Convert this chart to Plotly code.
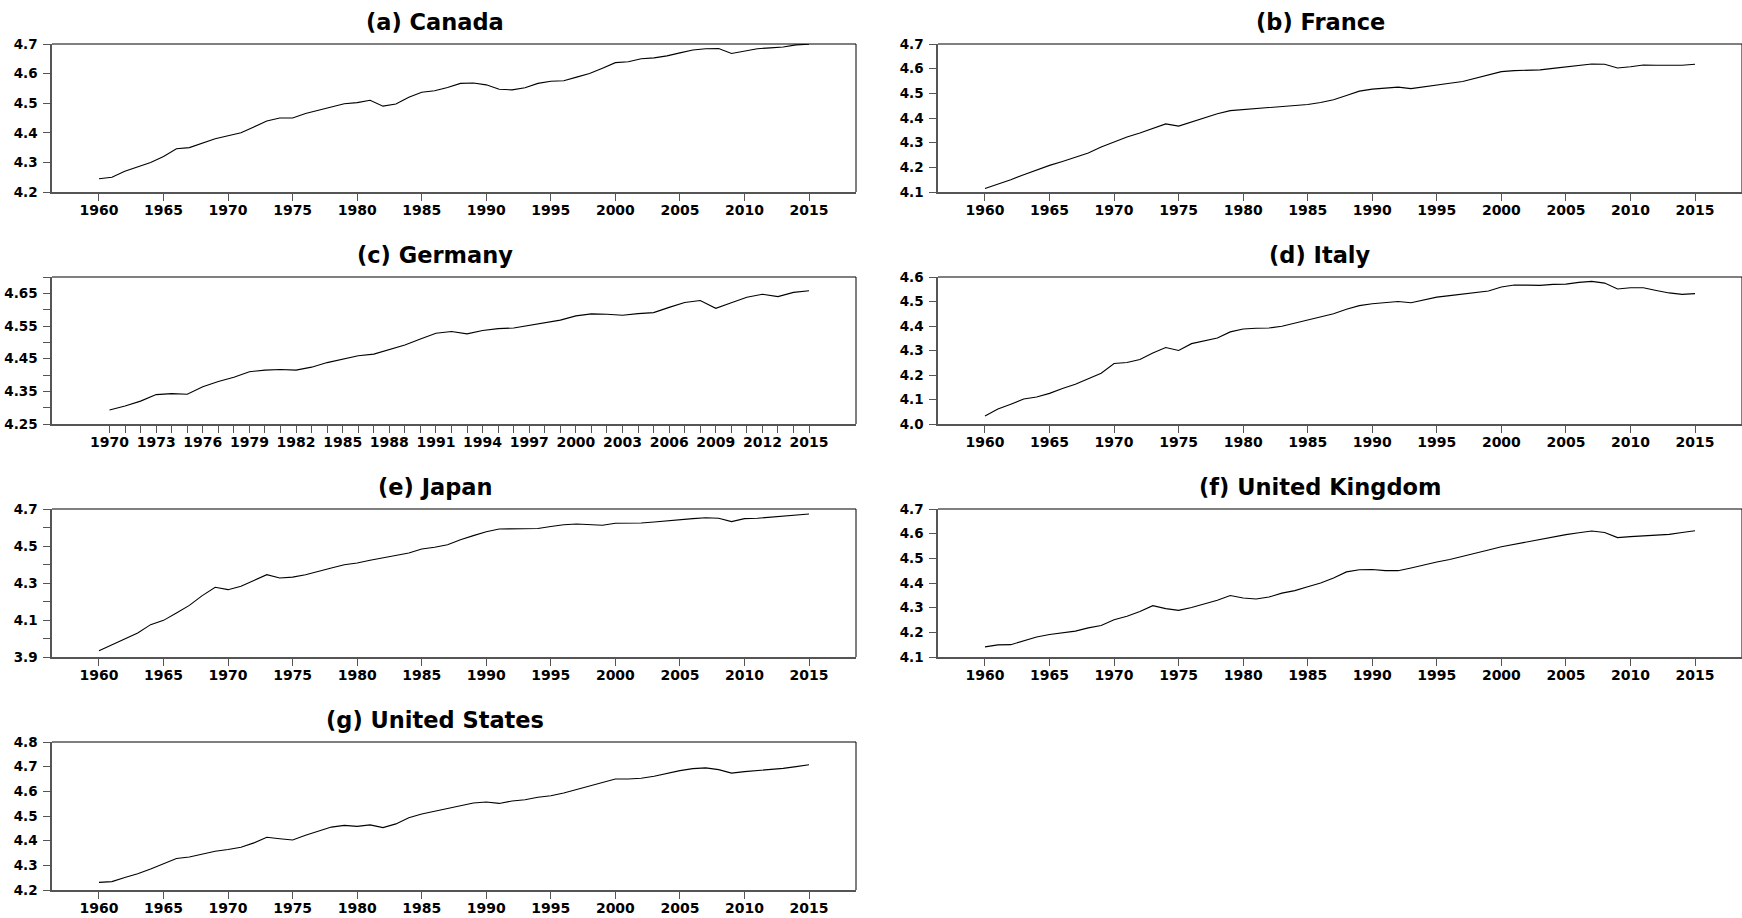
import plotly.graph_objects as go

# ---- data: log of per-capita series, annual ----
years_1960 = list(range(1960, 2016))
years_1970 = list(range(1970, 2016))

canada = [4.245, 4.250, 4.270, 4.285, 4.300, 4.320, 4.346, 4.350, 4.365, 4.380,
          4.390, 4.400, 4.420, 4.440, 4.450, 4.450, 4.465, 4.475, 4.487, 4.498,
          4.502, 4.510, 4.490, 4.497, 4.520, 4.537, 4.542, 4.553, 4.567, 4.568,
          4.562, 4.547, 4.545, 4.552, 4.567, 4.574, 4.576, 4.588, 4.600, 4.618,
          4.637, 4.640, 4.650, 4.653, 4.660, 4.670, 4.680, 4.684, 4.685, 4.668,
          4.675, 4.684, 4.687, 4.690, 4.697, 4.699]

france = [4.114, 4.131, 4.150, 4.170, 4.190, 4.208, 4.224, 4.240, 4.258, 4.282,
          4.304, 4.323, 4.339, 4.359, 4.376, 4.367, 4.384, 4.400, 4.417, 4.430,
          4.434, 4.437, 4.444, 4.447, 4.451, 4.455, 4.463, 4.474, 4.491, 4.509,
          4.517, 4.521, 4.525, 4.519, 4.527, 4.534, 4.541, 4.548, 4.561, 4.575,
          4.588, 4.592, 4.593, 4.595, 4.601, 4.606, 4.612, 4.619, 4.618, 4.603,
          4.608, 4.615, 4.614, 4.614, 4.614, 4.618]

germany = [4.293, 4.305, 4.320, 4.340, 4.343, 4.341, 4.364, 4.380, 4.393, 4.410,
           4.415, 4.417, 4.415, 4.424, 4.438, 4.449, 4.459, 4.464, 4.479, 4.492,
           4.510, 4.528, 4.533, 4.526, 4.536, 4.542, 4.544, 4.552, 4.560, 4.568,
           4.581, 4.587, 4.586, 4.583, 4.588, 4.591, 4.607, 4.622, 4.628, 4.604,
           4.621, 4.638, 4.647, 4.640, 4.653, 4.658]

italy = [4.033, 4.061, 4.081, 4.102, 4.110, 4.125, 4.145, 4.162, 4.185, 4.207,
         4.247, 4.251, 4.263, 4.290, 4.312, 4.300, 4.328, 4.338, 4.351, 4.376,
         4.388, 4.391, 4.392, 4.399, 4.411, 4.425, 4.437, 4.450, 4.468, 4.483,
         4.491, 4.497, 4.500, 4.495, 4.505, 4.518, 4.524, 4.530, 4.537, 4.543,
         4.559, 4.567, 4.567, 4.566, 4.570, 4.571, 4.578, 4.582, 4.575, 4.551,
         4.556, 4.556, 4.545, 4.535, 4.529, 4.532]

japan = [3.934, 3.967, 3.999, 4.030, 4.075, 4.098, 4.138, 4.179, 4.232, 4.277,
         4.264, 4.282, 4.314, 4.345, 4.327, 4.332, 4.345, 4.361, 4.381, 4.399,
         4.408, 4.423, 4.435, 4.446, 4.462, 4.484, 4.493, 4.507, 4.534, 4.556,
         4.577, 4.592, 4.594, 4.594, 4.595, 4.605, 4.615, 4.619, 4.614, 4.612,
         4.623, 4.624, 4.624, 4.630, 4.637, 4.642, 4.648, 4.653, 4.650, 4.632,
         4.648, 4.650, 4.655, 4.664, 4.668, 4.673]

united_kingdom = [4.141, 4.149, 4.150, 4.164, 4.181, 4.191, 4.197, 4.205, 4.218, 4.228,
                  4.251, 4.265, 4.284, 4.308, 4.296, 4.289, 4.301, 4.314, 4.330, 4.349,
                  4.339, 4.335, 4.343, 4.359, 4.369, 4.385, 4.400, 4.420, 4.445, 4.454,
                  4.455, 4.450, 4.450, 4.461, 4.474, 4.485, 4.495, 4.507, 4.520, 4.534,
                  4.547, 4.557, 4.568, 4.578, 4.586, 4.596, 4.604, 4.611, 4.605, 4.584,
                  4.588, 4.591, 4.592, 4.597, 4.605, 4.612]

united_states = [4.231, 4.234, 4.251, 4.266, 4.285, 4.307, 4.328, 4.334, 4.347, 4.357,
                 4.364, 4.373, 4.391, 4.414, 4.408, 4.403, 4.422, 4.438, 4.455, 4.462,
                 4.458, 4.464, 4.453, 4.468, 4.493, 4.508, 4.519, 4.528, 4.542, 4.553,
                 4.557, 4.551, 4.561, 4.566, 4.576, 4.582, 4.593, 4.607, 4.620, 4.636,
                 4.650, 4.650, 4.653, 4.661, 4.673, 4.684, 4.692, 4.695, 4.688, 4.674,
                 4.680, 4.684, 4.688, 4.693, 4.700, 4.708]

titles = ["(a) Canada", "(b) France", "(c) Germany", "(d) Italy",
          "(e) Japan", "(f) United Kingdom", "(g) United States"]

# labelled year ticks
ticks_5y = list(range(1960, 2016, 5))
ticks_3y = list(range(1970, 2016, 3))

# ---- page geometry (pixels) ----
W, H = 1742, 918
col_x = [(52, 856), (938, 1742)]
row_y = [(44, 192), (277, 424), (509, 657), (742, 890)]
title_cx = [435, 1320]

FONT = "DejaVu Sans"
AXIS_GREY = "#555555"

panels = [
    dict(x=years_1960, y=canada, col=0, row=0, yr=[4.2, 4.7], ytick=dict(tick0=4.2, dtick=0.1), yfmt=".1f"),
    dict(x=years_1960, y=france, col=1, row=0, yr=[4.1, 4.7], ytick=dict(tick0=4.1, dtick=0.1), yfmt=".1f"),
    dict(x=years_1970, y=germany, col=0, row=1, yr=[4.25, 4.70], ytick=dict(tick0=4.25, dtick=0.1),
         yfmt=".2f", yminor=0.05),
    dict(x=years_1960, y=italy, col=1, row=1, yr=[4.0, 4.6], ytick=dict(tick0=4.0, dtick=0.1), yfmt=".1f"),
    dict(x=years_1960, y=japan, col=0, row=2, yr=[3.9, 4.7], ytick=dict(tick0=3.9, dtick=0.2),
         yfmt=".1f", yminor=0.1),
    dict(x=years_1960, y=united_kingdom, col=1, row=2, yr=[4.1, 4.7], ytick=dict(tick0=4.1, dtick=0.1), yfmt=".1f"),
    dict(x=years_1960, y=united_states, col=0, row=3, yr=[4.2, 4.8], ytick=dict(tick0=4.2, dtick=0.1), yfmt=".1f"),
]

fig = go.Figure()
layout = dict(
    width=W, height=H,
    margin=dict(l=0, r=0, t=0, b=0, pad=0),
    paper_bgcolor="white", plot_bgcolor="white",
    showlegend=False,
    annotations=[], shapes=[],
)

for i, p in enumerate(panels):
    n = i + 1
    sfx = "" if n == 1 else str(n)
    xa, ya = "xaxis" + sfx, "yaxis" + sfx
    xref, yref = "x" + sfx, "y" + sfx

    x0, x1 = col_x[p["col"]]
    ytop, ybot = row_y[p["row"]]
    xdom = [x0 / W, x1 / W]
    ydom = [1 - ybot / H, 1 - ytop / H]

    fig.add_trace(go.Scatter(
        x=p["x"], y=p["y"], mode="lines",
        line=dict(color="black", width=1.1),
        xaxis=xref, yaxis=yref, hoverinfo="skip",
    ))

    if p["x"][0] == 1970:
        xrange = [1966.3, 2018.02]
        xt = dict(tickmode="array", tickvals=ticks_3y,
                  minor=dict(tickmode="array", tickvals=p["x"], ticks="outside",
                             ticklen=7, tickcolor=AXIS_GREY, tickwidth=1))
    else:
        xrange = [1956.36, 2018.64]
        xt = dict(tickmode="array", tickvals=ticks_5y)

    layout[xa] = dict(
        domain=xdom, anchor=yref, range=xrange, automargin=False,
        showgrid=False, zeroline=False,
        showline=True, linecolor=AXIS_GREY, linewidth=1.5,
        ticks="outside", ticklen=7, tickcolor=AXIS_GREY, tickwidth=1,
        ticklabelstandoff=-3,
        tickfont=dict(family=FONT, size=14, color="black", weight="bold"),
        fixedrange=True, **xt,
    )

    yt = dict(tickmode="linear", **p["ytick"])
    if "yminor" in p:
        yt["minor"] = dict(tickmode="linear", tick0=p["ytick"]["tick0"], dtick=p["yminor"],
                           ticks="outside", ticklen=7, tickcolor=AXIS_GREY, tickwidth=1)
    layout[ya] = dict(
        domain=ydom, anchor=xref, range=p["yr"], automargin=False,
        showgrid=False, zeroline=False,
        showline=True, linecolor=AXIS_GREY, linewidth=1.5,
        ticks="outside", ticklen=7, tickcolor=AXIS_GREY, tickwidth=1,
        tickformat=p["yfmt"], ticklabelstandoff=3,
        tickfont=dict(family=FONT, size=13.5, color="black", weight="bold"),
        fixedrange=True, **yt,
    )

    # top and right frame lines
    layout["shapes"].append(dict(type="line", xref=xref + " domain", yref=yref + " domain",
                                 x0=0, x1=1, y0=1, y1=1, line=dict(color="black", width=1)))
    layout["shapes"].append(dict(type="line", xref=xref + " domain", yref=yref + " domain",
                                 x0=1, x1=1, y0=0, y1=1, line=dict(color="black", width=1)))

    # panel heading
    layout["annotations"].append(dict(
        text=titles[i], xref="paper", yref="paper",
        x=title_cx[p["col"]] / W, y=1 - (ytop - 22) / H,
        xanchor="center", yanchor="middle", showarrow=False,
        font=dict(family=FONT, size=22.5, color="black", weight="bold"),
    ))

fig.update_layout(**layout)
fig.write_html("out.html")
